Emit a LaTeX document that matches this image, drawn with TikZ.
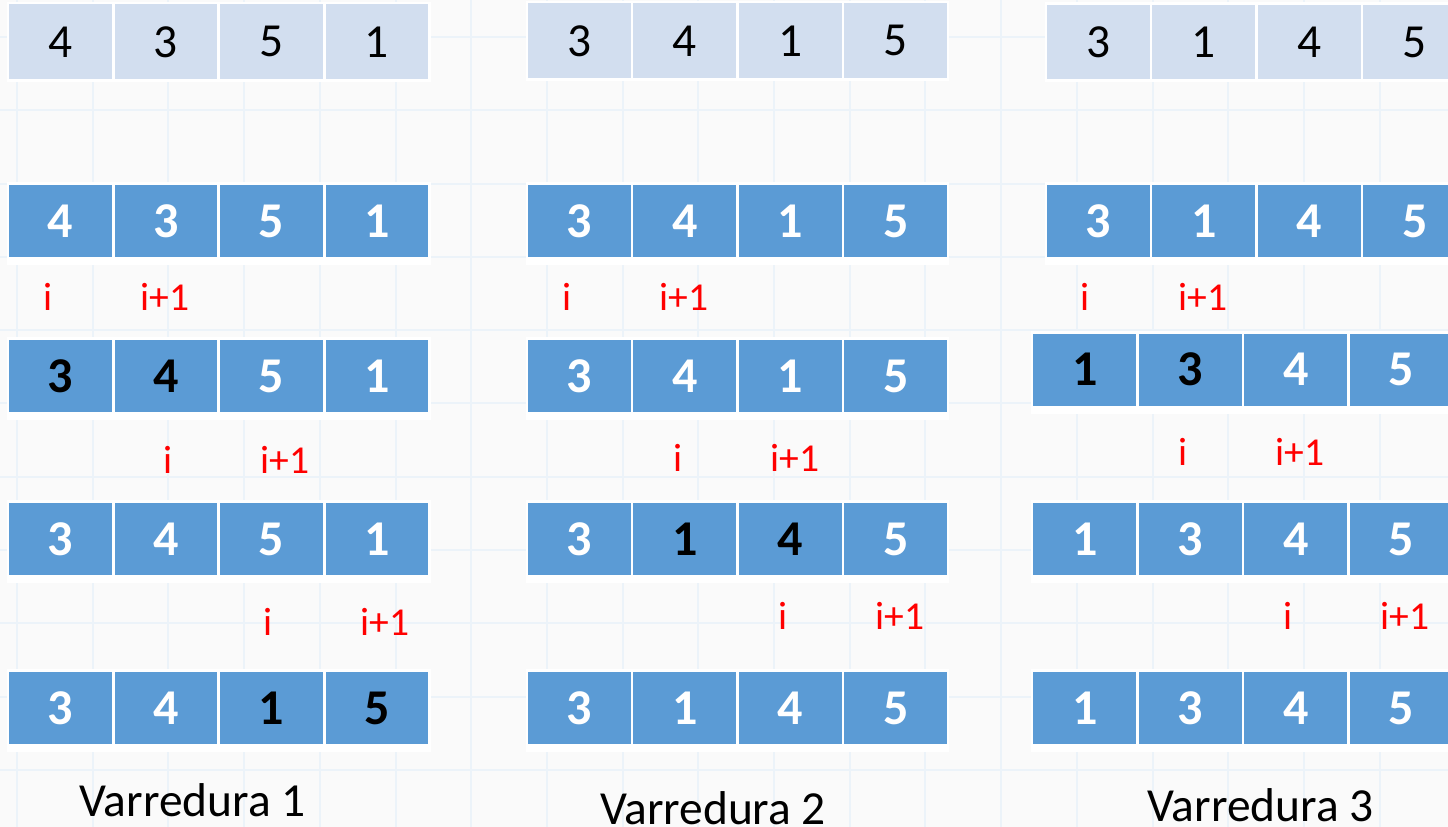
\documentclass[tikz,border=0pt]{standalone}
\usepackage{fontspec}
\setmainfont{Carlito}
\usetikzlibrary{positioning}
\definecolor{cellblue}{HTML}{5B9BD5}
\definecolor{celllight}{HTML}{D2DEEF}
\definecolor{markred}{HTML}{FF0000}
\definecolor{pagebg}{HTML}{FAFAFA}
\definecolor{gridline}{HTML}{ECF3F9}
\tikzset{
  lightcell/.style={fill=celllight, minimum width=2.06cm, minimum height=1.5cm,
    inner sep=0pt, font=\fontsize{27}{32}\selectfont},
  bluecell/.style={fill=cellblue, minimum width=2.06cm, minimum height=1.44cm,
    inner sep=0pt, text=white, font=\fontsize{28.5}{34}\selectfont\bfseries},
  marker/.style={text=markred, inner sep=0pt, font=\fontsize{22.5}{27}\selectfont},
  caption/.style={anchor=base, font=\fontsize{27}{32}\selectfont},
}
\newcommand{\hit}[1]{\textcolor{black}{#1}}
\newcommand{\lightrow}[4]{%
  \fill[white] (#2-2,#3-40) rectangle (#2+421.5,#3+40);
  \foreach \v [count=\k] in {#4}
    \node[lightcell] (#1\k) at (#2+51.5+105.5*\k-105.5,#3) {\v};}
\newcommand{\bluerow}[4]{%
  \fill[white] (#2-2,#3-39) rectangle (#2+421.5,#3+44);
  \foreach \v [count=\k] in {#4}
    \node[bluecell] (#1\k) at (#2+51.5+105.5*\k-105.5,#3) {\v};}

\begin{document}
\begin{tikzpicture}[x=0.02cm, y=-0.02cm]
  \useasboundingbox (0,0) rectangle (1448,827);
  \fill[pagebg] (0,0) rectangle (1448,827);
  \clip (0,0) rectangle (1448,827);
  \foreach \g in {0,...,18}
    \draw[gridline, line width=0.04cm] (17+75.7*\g,0) -- (17+75.7*\g,827);
  \foreach \g in {0,...,11}
    \draw[gridline, line width=0.04cm] (0,37+73.3*\g) -- (1448,37+73.3*\g);

  \lightrow{v1t}{9}{41.8}{4,3,5,1}
  \bluerow{v1a}{9}{221}{4,3,5,1}
  \bluerow{v1b}{9}{376}{\hit{3},\hit{4},5,1}
  \bluerow{v1c}{9}{539}{3,4,5,1}
  \bluerow{v1d}{9}{708}{3,4,\hit{1},\hit{5}}
  \node[marker] (p1a) at (48,297) {i};
  \node[marker] (q1a) at (165,297) {i+1};
  \node[marker] (p1b) at (168,460) {i};
  \node[marker] (q1b) at (285,460) {i+1};
  \node[marker] (p1c) at (268,622) {i};
  \node[marker] (q1c) at (385,622) {i+1};
  \node[caption] (c1) at (192.5,816.7) {Varredura 1};

  \lightrow{v2t}{527.7}{40.8}{3,4,1,5}
  \bluerow{v2a}{527.7}{221}{3,4,1,5}
  \bluerow{v2b}{527.7}{376}{3,4,1,5}
  \bluerow{v2c}{527.7}{539}{3,\hit{1},\hit{4},5}
  \bluerow{v2d}{527.7}{708}{3,1,4,5}
  \node[marker] (p2a) at (567,297) {i};
  \node[marker] (q2a) at (684,297) {i+1};
  \node[marker] (p2b) at (678,458) {i};
  \node[marker] (q2b) at (795,458) {i+1};
  \node[marker] (p2c) at (783,616) {i};
  \node[marker] (q2c) at (900,616) {i+1};
  \node[caption] (c2) at (713,824) {Varredura 2};

  \lightrow{v3t}{1046.7}{42}{3,1,4,5}
  \bluerow{v3a}{1046.7}{221}{3,1,4,5}
  \bluerow{v3b}{1033.3}{369.7}{\hit{1},\hit{3},4,5}
  \bluerow{v3c}{1033.3}{539}{1,3,4,5}
  \bluerow{v3d}{1033.3}{708}{1,3,4,5}
  \node[marker] (p3a) at (1085,297) {i};
  \node[marker] (q3a) at (1203,297) {i+1};
  \node[marker] (p3b) at (1183,452) {i};
  \node[marker] (q3b) at (1300,452) {i+1};
  \node[marker] (p3c) at (1288,616) {i};
  \node[marker] (q3c) at (1405,616) {i+1};
  \node[caption] (c3) at (1260.5,821.7) {Varredura 3};
\end{tikzpicture}
\end{document}
